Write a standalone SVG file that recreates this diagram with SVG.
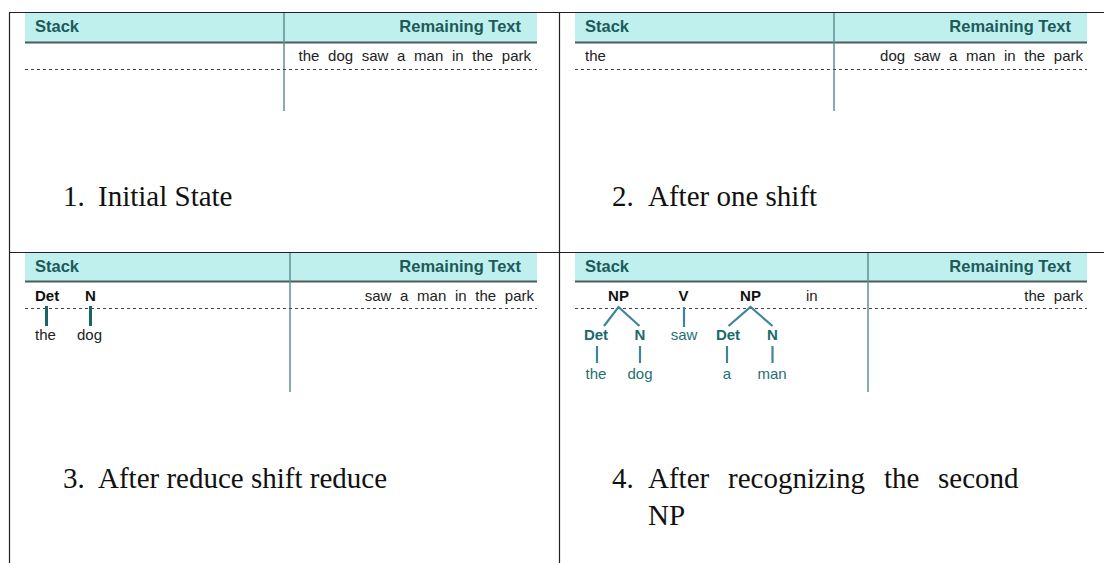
<svg xmlns="http://www.w3.org/2000/svg" width="1104" height="563" viewBox="0 0 1104 563">
<style>
.hdr{fill:#bff0ee}
.hline{stroke:#4e5b5b;stroke-width:2}
.col{stroke:#5c9292;stroke-width:1.5}
.dash{stroke:#444;stroke-width:1.2;stroke-dasharray:3,3}
.ht{font-family:"Liberation Sans",Arial,sans-serif;font-weight:bold;font-size:16.5px;fill:#1d5a5a}
.rt{font-family:"Liberation Sans",Arial,sans-serif;font-size:15px;fill:#222;word-spacing:4.5px}
.cat{font-family:"Liberation Sans",Arial,sans-serif;font-weight:bold;font-size:15px;fill:#111}
.tcat{font-family:"Liberation Sans",Arial,sans-serif;font-weight:bold;font-size:15px;fill:#1a6a6a}
.tw{font-family:"Liberation Sans",Arial,sans-serif;font-size:15px;fill:#1f7070}
.cap{font-family:"Liberation Serif","Times New Roman",serif;font-size:29px;fill:#111}
.frame{stroke:#222;stroke-width:1.2;fill:none}
.tree{stroke:#3f849c;stroke-width:2.2;fill:none}
.tree3{stroke:#1b6464;stroke-width:3;fill:none}
</style>
<g id="frame">
<line class="frame" x1="9" y1="12.5" x2="1104" y2="12.5" stroke-width="2"/>
<line class="frame" x1="9" y1="252.5" x2="1104" y2="252.5" stroke-width="2"/>
<line class="frame" x1="9.5" y1="12" x2="9.5" y2="563" stroke="#555"/>
<line class="frame" x1="559.5" y1="12" x2="559.5" y2="563" stroke="#555"/>
</g>
<g id="panel1">
<rect class="hdr" x="25" y="13" width="512" height="29.5"/>
<line class="hline" x1="25" y1="42.5" x2="537" y2="42.5"/>
<line class="col" x1="284" y1="13" x2="284" y2="111"/>
<text class="ht" x="35" y="32">Stack</text>
<text class="ht" x="521" y="32" text-anchor="end">Remaining Text</text>
<text class="rt" x="531" y="61" text-anchor="end">the dog saw a man in the park</text>
<line class="dash" x1="25" y1="69.5" x2="537" y2="69.5"/>
<text class="cap" x="63" y="206">1.</text>
<text class="cap" x="98" y="206">Initial State</text>
</g>
<g id="panel2">
<rect class="hdr" x="575" y="13" width="512" height="29.5"/>
<line class="hline" x1="575" y1="42.5" x2="1087" y2="42.5"/>
<line class="col" x1="834" y1="13" x2="834" y2="111"/>
<text class="ht" x="585" y="32">Stack</text>
<text class="ht" x="1071" y="32" text-anchor="end">Remaining Text</text>
<text class="rt" x="585" y="61">the</text>
<text class="rt" x="1083" y="61" text-anchor="end">dog saw a man in the park</text>
<line class="dash" x1="575" y1="69.5" x2="1087" y2="69.5"/>
<text class="cap" x="612" y="206">2.</text>
<text class="cap" x="648" y="206">After one shift</text>
</g>
<g id="panel3">
<rect class="hdr" x="25" y="253" width="512" height="28.5"/>
<line class="hline" x1="25" y1="281.5" x2="537" y2="281.5"/>
<line class="col" x1="290" y1="253" x2="290" y2="392"/>
<text class="ht" x="35" y="272">Stack</text>
<text class="ht" x="521" y="272" text-anchor="end">Remaining Text</text>
<text class="cat" x="35" y="301">Det</text>
<text class="cat" x="85" y="301">N</text>
<text class="rt" x="534" y="301" text-anchor="end">saw a man in the park</text>
<line class="dash" x1="25" y1="308.5" x2="537" y2="308.5"/>
<text class="rt" x="35" y="340">the</text>
<text class="rt" x="77" y="340">dog</text>
<text class="cap" x="63" y="488">3.</text>
<text class="cap" x="98" y="488">After reduce shift reduce</text>
</g>
<g id="panel4">
<rect class="hdr" x="575" y="253" width="512" height="28.5"/>
<line class="hline" x1="575" y1="281.5" x2="1087" y2="281.5"/>
<line class="col" x1="868" y1="253" x2="868" y2="392"/>
<text class="ht" x="585" y="272">Stack</text>
<text class="ht" x="1071" y="272" text-anchor="end">Remaining Text</text>
<text class="cat" x="618.5" y="301" text-anchor="middle">NP</text>
<text class="cat" x="683.5" y="301" text-anchor="middle">V</text>
<text class="cat" x="750.5" y="301" text-anchor="middle">NP</text>
<text class="rt" x="806" y="301">in</text>
<text class="rt" x="1083" y="301" text-anchor="end">the park</text>
<line class="dash" x1="575" y1="308.5" x2="1087" y2="308.5"/>
<text class="tcat" x="596" y="340" text-anchor="middle">Det</text>
<text class="tcat" x="640" y="340" text-anchor="middle">N</text>
<text class="tw" x="684" y="340" text-anchor="middle">saw</text>
<text class="tcat" x="728" y="340" text-anchor="middle">Det</text>
<text class="tcat" x="772.5" y="340" text-anchor="middle">N</text>
<text class="tw" x="596" y="379" text-anchor="middle">the</text>
<text class="tw" x="640" y="379" text-anchor="middle">dog</text>
<text class="tw" x="727" y="379" text-anchor="middle">a</text>
<text class="tw" x="772" y="379" text-anchor="middle">man</text>
<text class="cap" x="612" y="488">4.</text>
<text class="cap" x="648" y="488">After</text>
<text class="cap" x="728" y="488">recognizing</text>
<text class="cap" x="884" y="488">the</text>
<text class="cap" x="938" y="488">second</text>
<text class="cap" x="648" y="525">NP</text>
</g>
<g id="connectors">
<line class="tree3" x1="46.5" y1="306" x2="46.5" y2="326"/>
<line class="tree3" x1="90.5" y1="306" x2="90.5" y2="326"/>
<polyline class="tree" points="604,326 618.5,307 639.5,326"/>
<line class="tree" x1="684" y1="307" x2="684" y2="327"/>
<polyline class="tree" points="728.5,326 750.5,307 772.5,326"/>
<line class="tree" x1="597" y1="346" x2="597" y2="363"/>
<line class="tree" x1="640" y1="346" x2="640" y2="363"/>
<line class="tree" x1="727" y1="346" x2="727" y2="363"/>
<line class="tree" x1="772.5" y1="346" x2="772.5" y2="363"/>
</g>
</svg>
